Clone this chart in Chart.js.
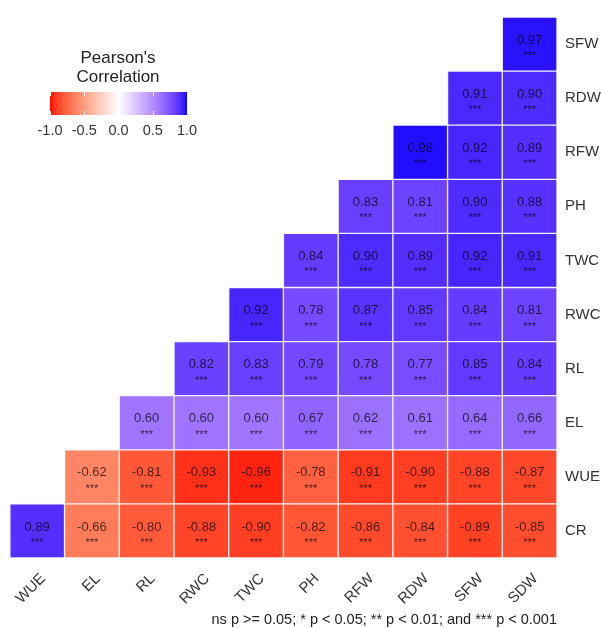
<!DOCTYPE html>
<html>
<head>
<meta charset="utf-8">
<script src="https://cdn.jsdelivr.net/npm/chart.js@4.4.1/dist/chart.umd.min.js"></script>
<style>
  html, body { margin: 0; padding: 0; background: #fff; }
  #wrap { width: 601px; height: 628px; position: relative; }
</style>
</head>
<body>
<div id="wrap"><canvas id="corrChart"></canvas></div>
<script>
// columns (x axis) left to right
const colLabels = ['WUE', 'EL', 'RL', 'RWC', 'TWC', 'PH', 'RFW', 'RDW', 'SFW', 'SDW'];
// rows (y axis) bottom to top
const rowLabels = ['CR', 'WUE', 'EL', 'RL', 'RWC', 'TWC', 'PH', 'RFW', 'RDW', 'SFW'];

// correlation values per row, one entry per column (null = empty cell)
const corrCR  = [0.89, -0.66, -0.80, -0.88, -0.90, -0.82, -0.86, -0.84, -0.89, -0.85];
const corrWUE = [null, -0.62, -0.81, -0.93, -0.96, -0.78, -0.91, -0.90, -0.88, -0.87];
const corrEL  = [null, null, 0.60, 0.60, 0.60, 0.67, 0.62, 0.61, 0.64, 0.66];
const corrRL  = [null, null, null, 0.82, 0.83, 0.79, 0.78, 0.77, 0.85, 0.84];
const corrRWC = [null, null, null, null, 0.92, 0.78, 0.87, 0.85, 0.84, 0.81];
const corrTWC = [null, null, null, null, null, 0.84, 0.90, 0.89, 0.92, 0.91];
const corrPH  = [null, null, null, null, null, null, 0.83, 0.81, 0.90, 0.88];
const corrRFW = [null, null, null, null, null, null, null, 0.98, 0.92, 0.89];
const corrRDW = [null, null, null, null, null, null, null, null, 0.91, 0.90];
const corrSFW = [null, null, null, null, null, null, null, null, null, 0.97];

const rowValues = [corrCR, corrWUE, corrEL, corrRL, corrRWC, corrTWC, corrPH, corrRFW, corrRDW, corrSFW];
const legendTicks = [-1.0, -0.5, 0.0, 0.5, 1.0];

// --- red / white / blue gradient interpolated in Lab space (like ggplot) ---
function toLin(c) { c /= 255; return c <= 0.04045 ? c / 12.92 : Math.pow((c + 0.055) / 1.055, 2.4); }
function fromLin(c) { c = c <= 0.0031308 ? 12.92 * c : 1.055 * Math.pow(c, 1 / 2.4) - 0.055; return Math.max(0, Math.min(255, Math.round(c * 255))); }
function rgb2lab(r, g, b) {
  r = toLin(r); g = toLin(g); b = toLin(b);
  let x = (r * 0.4124 + g * 0.3576 + b * 0.1805) / 0.95047;
  let y = (r * 0.2126 + g * 0.7152 + b * 0.0722);
  let z = (r * 0.0193 + g * 0.1192 + b * 0.9505) / 1.08883;
  const f = t => t > 0.008856 ? Math.cbrt(t) : 7.787 * t + 16 / 116;
  x = f(x); y = f(y); z = f(z);
  return [116 * y - 16, 500 * (x - y), 200 * (y - z)];
}
function lab2rgb(L, a, b) {
  let y = (L + 16) / 116, x = a / 500 + y, z = y - b / 200;
  const fi = t => t * t * t > 0.008856 ? t * t * t : (t - 16 / 116) / 7.787;
  x = fi(x) * 0.95047; y = fi(y); z = fi(z) * 1.08883;
  const r = x * 3.2406 + y * -1.5372 + z * -0.4986;
  const g = x * -0.9689 + y * 1.8758 + z * 0.0415;
  const bb = x * 0.0557 + y * -0.2040 + z * 1.0570;
  return 'rgb(' + fromLin(r) + ',' + fromLin(g) + ',' + fromLin(bb) + ')';
}
const labRed = rgb2lab(255, 0, 0), labWhite = rgb2lab(255, 255, 255), labBlue = rgb2lab(0, 0, 255);
function corrColor(v) {
  const end = v < 0 ? labRed : labBlue;
  const t = Math.min(1, Math.abs(v));
  return lab2rgb(
    labWhite[0] + (end[0] - labWhite[0]) * t,
    labWhite[1] + (end[1] - labWhite[1]) * t,
    labWhite[2] + (end[2] - labWhite[2]) * t
  );
}

const FONT = "'Liberation Sans', Arial, sans-serif";

const datasets = rowValues.map(function(vals, r) {
  return {
    label: rowLabels[r],
    data: vals.map(v => v === null ? null : [r, r + 1]),
    corr: vals,
    backgroundColor: vals.map(v => v === null ? 'rgba(0,0,0,0)' : corrColor(v)),
    borderColor: 'rgba(235,235,235,0.55)',
    borderWidth: 1,
    borderSkipped: false,
    grouped: false,
    categoryPercentage: 1.0,
    barPercentage: 1.0
  };
});

// cell labels: value + significance stars
const cellText = {
  id: 'cellText',
  afterDatasetsDraw(chart) {
    const ctx = chart.ctx;
    ctx.save();
    ctx.textAlign = 'center';
    chart.data.datasets.forEach(function(ds, i) {
      chart.getDatasetMeta(i).data.forEach(function(el, j) {
        const v = ds.corr[j];
        if (v === null) return;
        const cy = (el.y + el.base) / 2;
        ctx.fillStyle = 'rgba(0,0,0,0.7)';
        ctx.font = '13px ' + FONT;
        ctx.textBaseline = 'middle';
        ctx.fillText(v.toFixed(2), el.x, cy - 4);
        ctx.font = '11px ' + FONT;
        ctx.textBaseline = 'alphabetic';
        ctx.fillText('***', el.x, cy + 15);
      });
    });
    ctx.restore();
  }
};

// colour bar legend and caption
const colorLegend = {
  id: 'colorLegend',
  afterDraw(chart) {
    const ctx = chart.ctx;
    const x0 = 50, x1 = 187, y0 = 92, y1 = 115;
    ctx.save();
    ctx.fillStyle = '#222';
    ctx.font = '17px ' + FONT;
    ctx.textAlign = 'center';
    ctx.textBaseline = 'middle';
    ctx.fillText("Pearson's", 118, 58);
    ctx.fillText('Correlation', 118, 77);

    const grad = ctx.createLinearGradient(x0, 0, x1, 0);
    for (let k = 0; k <= 40; k++) {
      grad.addColorStop(k / 40, corrColor(-1 + k / 20));
    }
    ctx.fillStyle = grad;
    ctx.fillRect(x0, y0, x1 - x0, y1 - y0);

    ctx.strokeStyle = '#fff';
    ctx.lineWidth = 1;
    legendTicks.forEach(function(t) {
      const px = Math.round(x0 + (t + 1) / 2 * (x1 - x0)) + 0.5;
      ctx.beginPath();
      ctx.moveTo(px, y0); ctx.lineTo(px, y0 + 4);
      ctx.moveTo(px, y1 - 4); ctx.lineTo(px, y1);
      ctx.stroke();
    });

    ctx.fillStyle = '#333';
    ctx.font = '14.5px ' + FONT;
    legendTicks.forEach(function(t) {
      const px = x0 + (t + 1) / 2 * (x1 - x0);
      ctx.fillText(t.toFixed(1), px, 131);
    });

    ctx.textAlign = 'right';
    ctx.font = '14.5px ' + FONT;
    ctx.fillStyle = '#222';
    ctx.fillText('ns p >= 0.05; * p < 0.05; ** p < 0.01; and *** p < 0.001', 557, 620);
    ctx.restore();
  }
};

const ctx = document.getElementById('corrChart').getContext('2d');
const corrChart = new Chart(ctx, {
  type: 'bar',
  data: { labels: colLabels, datasets: datasets },
  options: {
    responsive: true,
    maintainAspectRatio: false,
    animation: false,
    layout: { padding: { left: 9, top: 11, right: 0, bottom: 0 } },
    scales: {
      x: {
        grid: { display: false, drawTicks: false },
        border: { display: false },
        ticks: {
          minRotation: 45, maxRotation: 45, padding: 12, labelOffset: 6,
          color: '#333', font: { family: FONT, size: 15 }
        },
        afterFit(scale) { scale.height = 70; }
      },
      y: {
        position: 'right',
        min: 0, max: 10,
        grid: { display: false, drawTicks: false },
        border: { display: false },
        afterBuildTicks(scale) {
          scale.ticks = rowLabels.map((_, i) => ({ value: i + 0.5 }));
        },
        ticks: {
          padding: 8,
          color: '#333', font: { family: FONT, size: 15 },
          callback: v => rowLabels[Math.floor(v)]
        },
        afterFit(scale) { scale.width = 44; }
      }
    },
    plugins: {
      legend: { display: false },
      tooltip: { enabled: false }
    }
  },
  plugins: [cellText, colorLegend]
});
</script>
</body>
</html>
